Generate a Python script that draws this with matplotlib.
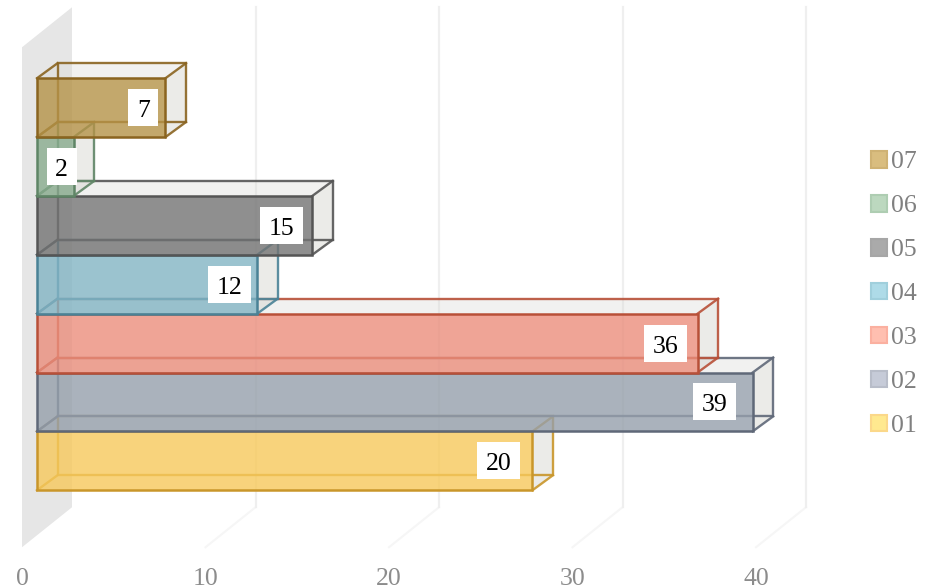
import matplotlib
matplotlib.use('Agg')
import matplotlib.pyplot as plt
from matplotlib.patches import Polygon, Rectangle

names = ['01', '02', '03', '04', '05', '06', '07']
values = [27, 39, 36, 12, 15, 2, 7]
shown = ['20', '39', '36', '12', '15', '2', '7']
ticks = [0, 10, 20, 30, 40]

fills = ['#f7c95b', '#959fab', '#eb8e7c', '#82b4c4', '#737373', '#88ac8e', '#b59247']
edges = ['#c9962a', '#5f6878', '#b85038', '#4a8296', '#555555', '#5f8566', '#8a6420']
leg_fill = ['#ffe98f', '#c6cbd8', '#ffbfb0', '#aedbe8', '#aaaaaa', '#bcd8bf', '#d9bd7f']
leg_edge = ['#fbd88a', '#b8bdc9', '#fbb0a0', '#a0cfdc', '#a6a6a6', '#aecdb2', '#cfb274']
label_shift = [-33.5, -38, -32, -28, -31, -12, -22]

plt.rcParams['font.family'] = ['Liberation Serif', 'DejaVu Serif']

# one value unit / one row in pixels
ux = 18.35
uy = 58.86
px = 1 / ux
py = 1 / uy

fig = plt.figure(figsize=(9.33, 5.88), dpi=100)
ax = fig.add_axes([0, 0, 1, 1])
ax.set_xlim(-22 * px, (933 - 22) * px)
ax.set_ylim(-97.75 * py, 490.25 * py)
ax.axis('off')

wdx = 50 * px
wdy = 40 * py
w0 = -57 * py
w1 = 443 * py

# side wall
ax.add_patch(Polygon([(0, w0), (wdx, w0 + wdy), (wdx, w1 + wdy), (0, w1)],
                     fc='#e6e6e6', ec='none', zorder=1))

for t in ticks[1:]:
    ax.plot([t, t + wdx], [w0, w0 + wdy], color='#f6f6f6', lw=1.5, zorder=1)
    ax.plot([t + wdx, t + wdx], [w0 + wdy, w1 + wdy], color='#efefef', lw=1.6, zorder=1)
for t in ticks:
    ax.text(t, -86 * py, str(t), ha='center', va='center_baseline', fontsize=18.5, color='#8c8c8c')

x0 = 15 * px
bdx = 20.5 * px
bdy = 15 * py

for i in range(len(names)):
    z = 2 + i
    xa = x0
    xb = x0 + values[i]
    ya = i
    yb = i + 1
    back = [(xa + bdx, ya + bdy), (xb + bdx, ya + bdy), (xb + bdx, yb + bdy), (xa + bdx, yb + bdy)]
    # faint top and end faces
    ax.add_patch(Polygon([(xa, yb), (xb, yb), (xb + bdx, yb + bdy), (xa + bdx, yb + bdy)],
                         fc='#d8d8d4', alpha=0.35, ec='none', zorder=z))
    ax.add_patch(Polygon([(xb, ya), (xb + bdx, ya + bdy), (xb + bdx, yb + bdy), (xb, yb)],
                         fc='#d0d0ca', alpha=0.42, ec='none', zorder=z))
    ax.add_patch(Polygon(back, fc='none', ec=edges[i], lw=1.7, alpha=0.9, zorder=z))
    for fx, fy in [(xa, ya), (xb, ya), (xb, yb), (xa, yb)]:
        ax.plot([fx, fx + bdx], [fy, fy + bdy], color=edges[i], lw=1.7, alpha=0.9, zorder=z)
    ax.add_patch(Rectangle((xa, ya), values[i], 1, fc=fills[i], alpha=0.8, ec='none', zorder=z))
    ax.add_patch(Rectangle((xa, ya), values[i], 1, fc='none', ec=edges[i], lw=1.8, zorder=z))

for i in range(len(names)):
    cx = x0 + values[i] + label_shift[i] * px
    cy = i + 0.5
    w = (30 if len(shown[i]) == 1 else 43) * px
    h = 37 * py
    ax.add_patch(Rectangle((cx - w / 2, cy - h / 2), w, h, fc='white', ec='none', zorder=20))
    ax.text(cx, cy - 1 * py, shown[i], ha='center', va='center_baseline', fontsize=18.5, color='black', zorder=21)

handles = [Rectangle((0, 0), 1, 1, fc=leg_fill[i], ec=leg_edge[i], lw=1.5) for i in range(len(names))][::-1]
leg = ax.legend(handles, names[::-1], loc='center left', bbox_to_anchor=(871 / 933, 1 - 294 / 588),
                frameon=False, fontsize=18.5, handlelength=0.62, handleheight=0.62,
                handletextpad=0.15, labelspacing=0.84, borderpad=0, borderaxespad=0,
                labelcolor='#808080')

fig.savefig('out.png', dpi=100)
